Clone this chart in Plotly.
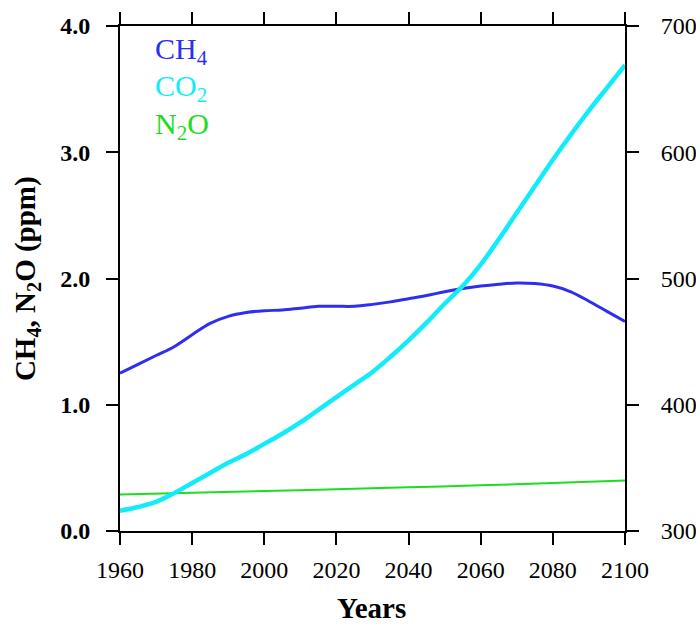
import plotly.graph_objects as go

years = list(range(1960, 2101, 5))
ch4 = [1.25, 1.32, 1.39, 1.46, 1.555, 1.645, 1.70, 1.73, 1.745, 1.75, 1.765, 1.78, 1.78, 1.78,
       1.795, 1.815, 1.84, 1.865, 1.895, 1.92, 1.94, 1.955, 1.965, 1.96, 1.94, 1.895, 1.82, 1.74, 1.66]
co2 = [316, 319, 323, 330, 338, 346, 354, 361, 369, 377, 386, 396, 406, 416, 426, 438, 451, 465,
       480, 494, 511, 531, 552, 573, 594, 614, 633, 651, 669]
n2o_years = [1960, 1980, 2000, 2020, 2040, 2060, 2080, 2100]
n2o = [0.29, 0.302, 0.316, 0.331, 0.346, 0.362, 0.38, 0.40]

left_ticks = [0, 1, 2, 3, 4]
left_labels = ["0.0", "1.0", "2.0", "3.0", "4.0"]
right_ticks = [300, 400, 500, 600, 700]
x_ticks = list(range(1960, 2101, 20))

BLUE = "#2e2ef0"
CYAN = "#12ecfa"
GREEN = "#1edc1e"
FONT = "Liberation Serif"

fig = go.Figure()
fig.add_trace(go.Scatter(x=n2o_years, y=n2o, mode="lines", line=dict(color=GREEN, width=2, shape="spline"),
                         yaxis="y", showlegend=False))
fig.add_trace(go.Scatter(x=years, y=ch4, mode="lines", line=dict(color=BLUE, width=3, shape="spline"),
                         yaxis="y", showlegend=False))
fig.add_trace(go.Scatter(x=years, y=co2, mode="lines", line=dict(color=CYAN, width=4.5, shape="spline"),
                         yaxis="y2", showlegend=False))

axis_common = dict(showline=True, linecolor="black", linewidth=2, ticks="outside", ticklen=12,
                   tickwidth=2, tickcolor="black", showgrid=False, zeroline=False, automargin=False)

fig.update_layout(
    width=696, height=624, autosize=False,
    margin=dict(l=120, r=71, t=26, b=93),
    paper_bgcolor="white", plot_bgcolor="white",
    font=dict(family=FONT, color="black"),
    xaxis=dict(range=[1960, 2100], tickvals=x_ticks, mirror="ticks",
               tickfont=dict(size=24, family=FONT), ticklabelstandoff=4,
               **axis_common),
    yaxis=dict(range=[0, 4], tickvals=left_ticks, ticktext=["<b>%s</b>" % t for t in left_labels],
               tickfont=dict(size=24, family=FONT), ticklabelstandoff=11,
               **axis_common),
    yaxis2=dict(range=[300, 700], tickvals=right_ticks, overlaying="y", side="right",
                tickfont=dict(size=24, family=FONT), ticklabelstandoff=17, **axis_common),
)

fig.add_annotation(xref="paper", yref="paper", x=-0.184, y=0.499, textangle=-90,
                   text="<b>CH<sub>4</sub>, N<sub>2</sub>O (ppm)</b>", showarrow=False,
                   xanchor="center", yanchor="middle", font=dict(size=29, family=FONT, color="black"))
fig.add_annotation(xref="paper", yref="paper", x=0.499, y=-0.1525,
                   text="<b>Years</b>", showarrow=False,
                   xanchor="center", yanchor="middle", font=dict(size=29, family=FONT, color="black"))

legend_items = [("CH<sub>4</sub>", BLUE), ("CO<sub>2</sub>", CYAN), ("N<sub>2</sub>O", GREEN)]
legend_y = [0.950, 0.877, 0.802]
for (txt, col), yy in zip(legend_items, legend_y):
    fig.add_annotation(xref="paper", yref="paper", x=0.0653, y=yy,
                       text=txt, showarrow=False, xanchor="left", yanchor="middle",
                       font=dict(size=30, color=col, family=FONT))

fig.write_html("out.html", config={"displayModeBar": False},
               post_script="document.body.style.margin='0';document.body.style.overflow='hidden';")
